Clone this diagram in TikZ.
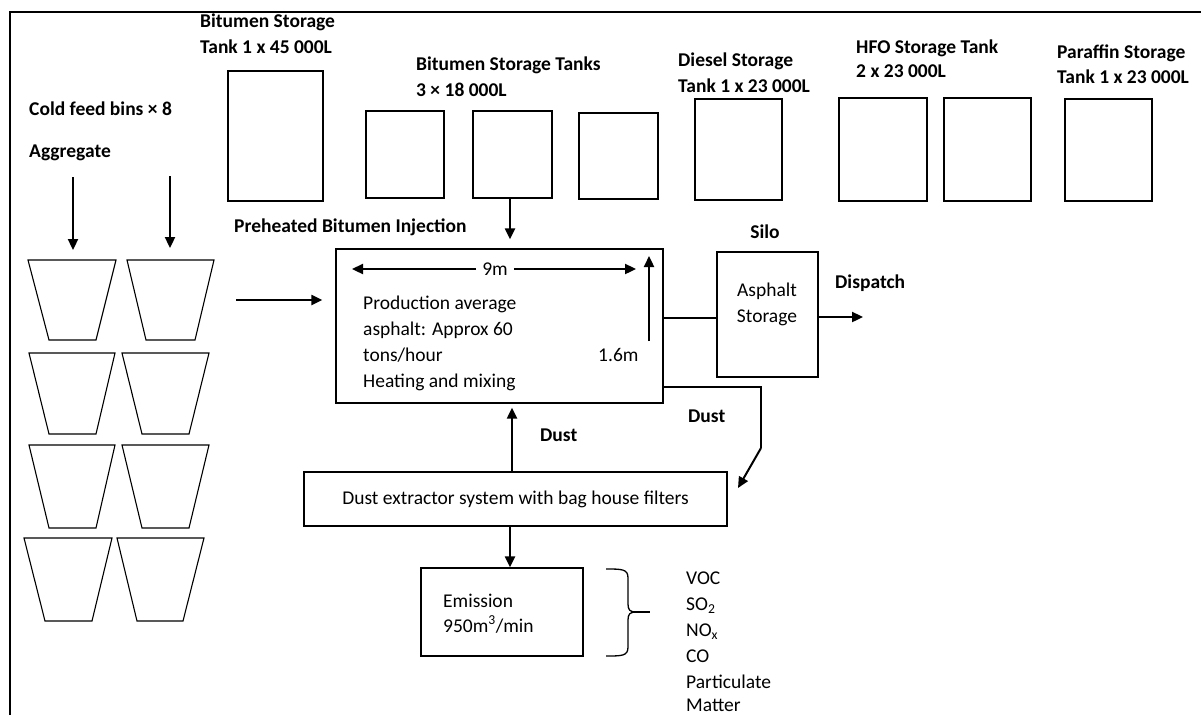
\documentclass[tikz,border=0pt]{standalone}
\usepackage{fontspec}
\setmainfont{Carlito}
\usetikzlibrary{arrows.meta}
\newcommand{\mybin}[6]{\draw[binl] (#1,#5) -- (#2,#5) -- (#4,#6) -- (#3,#6) -- cycle;}
\begin{document}
\begin{tikzpicture}[x=1pt,y=-1pt,
 every node/.style={font=\fontsize{19.5}{23}\selectfont, inner sep=0pt},
 lbl/.style={font=\fontsize{19.5}{23}\selectfont\bfseries, anchor=base west, inner sep=0pt},
 txt/.style={anchor=base west, inner sep=0pt},
 box/.style={draw, line width=1.4pt, inner sep=0pt},
 tip/.style={-{Triangle[length=11pt,width=10pt]}},
 arr/.style={line width=2.3pt, tip},
 thinl/.style={line width=1.3pt},
 binl/.style={line width=1.1pt, line join=miter}]
\useasboundingbox (0,0) rectangle (1201,715);
\draw[line width=2.7pt] (10,715) -- (10,12) -- (1201,12);

% top labels
\node[lbl] (l1a) at (200,27) {Bitumen Storage};
\node[lbl] (l1b) at (200,53) {Tank 1 x 45 000L};
\node[lbl] (l2a) at (416,70) {Bitumen Storage Tanks};
\node[lbl] (l2b) at (416,96) {3 × 18 000L};
\node[lbl] (l3a) at (678,66) {Diesel Storage};
\node[lbl] (l3b) at (678,92) {Tank 1 x 23 000L};
\node[lbl] (l4a) at (856,53) {HFO Storage Tank};
\node[lbl] (l4b) at (856,77) {2 x 23 000L};
\node[lbl] (l5a) at (1057,58) {Paraffin Storage};
\node[lbl] (l5b) at (1057,83) {Tank 1 x 23 000L};
\node[lbl] (cold) at (29,115) {Cold feed bins × 8};
\node[lbl] (agg) at (29,157) {Aggregate};
\node[lbl] (pre) at (234,232) {Preheated Bitumen Injection};

% tanks
\node[box, minimum width=95pt, minimum height=130pt] (t1) at (275.5,136) {};
\node[box, minimum width=78pt, minimum height=87pt] (ta) at (405,154.5) {};
\node[box, minimum width=79pt, minimum height=87pt] (tb) at (512.5,154.5) {};
\node[box, minimum width=79pt, minimum height=86pt] (tc) at (618.5,156) {};
\node[box, minimum width=87pt, minimum height=101pt] (td) at (738.5,149.5) {};
\node[box, minimum width=88pt, minimum height=103pt] (th1) at (883,149.5) {};
\node[box, minimum width=87pt, minimum height=103pt] (th2) at (987.5,149.5) {};
\node[box, minimum width=87pt, minimum height=102pt] (tp) at (1108.5,150) {};

% bins
\mybin{28}{116}{49}{96}{260}{340}
\mybin{127}{214}{146}{195}{260}{340}
\mybin{29}{115}{49}{96}{353}{434}
\mybin{122}{209}{142}{189}{353}{434}
\mybin{29}{115}{49}{96}{445}{528}
\mybin{122}{209}{142}{189}{445}{528}
\mybin{24}{112}{45}{92}{538}{621}
\mybin{117}{204}{137}{183}{538}{621}
\coordinate (ag1s) at (73,177); \coordinate (ag1e) at (73,250);
\coordinate (ag2s) at (170,176); \coordinate (ag2e) at (170,248);
\draw[arr] (ag1s) -- (ag1e);
\draw[arr] (ag2s) -- (ag2e);

% production
\node[box, minimum width=327pt, minimum height=154pt] (prod) at (499.5,326) {};
\node[txt] (p1) at (363,309) {Production average};
\node[txt] (p2) at (363,335) {asphalt: Approx 60};
\node[txt] (p3) at (363,361) {tons/hour};
\node[txt] (p4) at (363,387) {Heating and mixing};
\node[txt] (p16) at (598,361) {1.6m};
\node[inner xsep=6pt] (nine) at (495,269) {9m};
\coordinate (nineL) at (352,269); \coordinate (nineR) at (636,269);
\draw[arr] (nine.west) -- (nineL);
\draw[arr] (nine.east) -- (nineR);
\coordinate (hA) at (649,341); \coordinate (hB) at (649,256);
\draw[arr] (hA) -- (hB);

% silo
\node[lbl, anchor=base] (silot) at (765,238) {Silo};
\node[box, minimum width=101pt, minimum height=125pt] (silo) at (767.5,314.5) {};
\node[anchor=base] (as1) at (767,296) {Asphalt};
\node[anchor=base] (as2) at (767,322) {Storage};
\node[lbl] (disp) at (835,288) {Dispatch};
\coordinate (dispend) at (863,317);

% dust extractor and emission
\node[box, minimum width=423pt, minimum height=54pt] (dust) at (515.5,499) {Dust extractor system with bag house filters};
\node[box, minimum width=162pt, minimum height=88pt] (emis) at (502,612) {};
\node[txt] (e1) at (443,607) {Emission};
\node[txt] (e2) at (443,632) {950m\textsuperscript{3}/min};
\node[lbl] (dust1) at (688,422) {Dust};
\node[lbl] (dust2) at (540,441) {Dust};

% connectors
\draw[arr, shorten >=9pt] ([xshift=-2.5pt]tb.south) -- ([xshift=-2.5pt]tb.south |- prod.north);
\coordinate (binout) at (236,300);
\draw[arr, shorten >=13pt] (binout) -- (binout -| prod.west);
\draw[thinl] ([yshift=8pt]prod.east) -- ([yshift=8pt]prod.east -| silo.west);
\draw[arr] (silo.east |- dispend) -- (dispend);
\coordinate (dbend) at (761,448); \coordinate (dtip) at (738,488);
\draw[thinl] ([yshift=-61pt]prod.east) -| (dbend);
\draw[line width=2pt, tip] (dbend) -- (dtip);
\draw[arr, shorten >=4pt] ([xshift=-3.5pt]dust.north) -- ([xshift=-3.5pt]dust.north |- prod.south);
\draw[arr] ([xshift=-5.5pt]dust.south) -- ([xshift=-5.5pt]dust.south |- emis.north);

% brace and emissions list
\coordinate (brT) at (606,569); \coordinate (brB) at (606,656); \coordinate (brM) at (650,612);
\draw[thinl] (brT) .. controls (622,569) and (628,569) .. (628,578) -- (628,604)
  .. controls (628,610) and (630,612) .. (636,612) .. controls (630,612) and (628,614) .. (628,620)
  -- (628,647) .. controls (628,656) and (622,656) .. (brB);
\draw[line width=1.8pt] (634,612) -- (brM);
\node[txt] (v1) at (686,584) {VOC};
\node[txt] (v2) at (686,610) {SO\textsubscript{2}};
\node[txt] (v3) at (686,636) {NO\textsubscript{x}};
\node[txt] (v4) at (686,662) {CO};
\node[txt] (v5) at (686,688) {Particulate};
\node[txt] (v6) at (686,711) {Matter};
\end{tikzpicture}
\end{document}
